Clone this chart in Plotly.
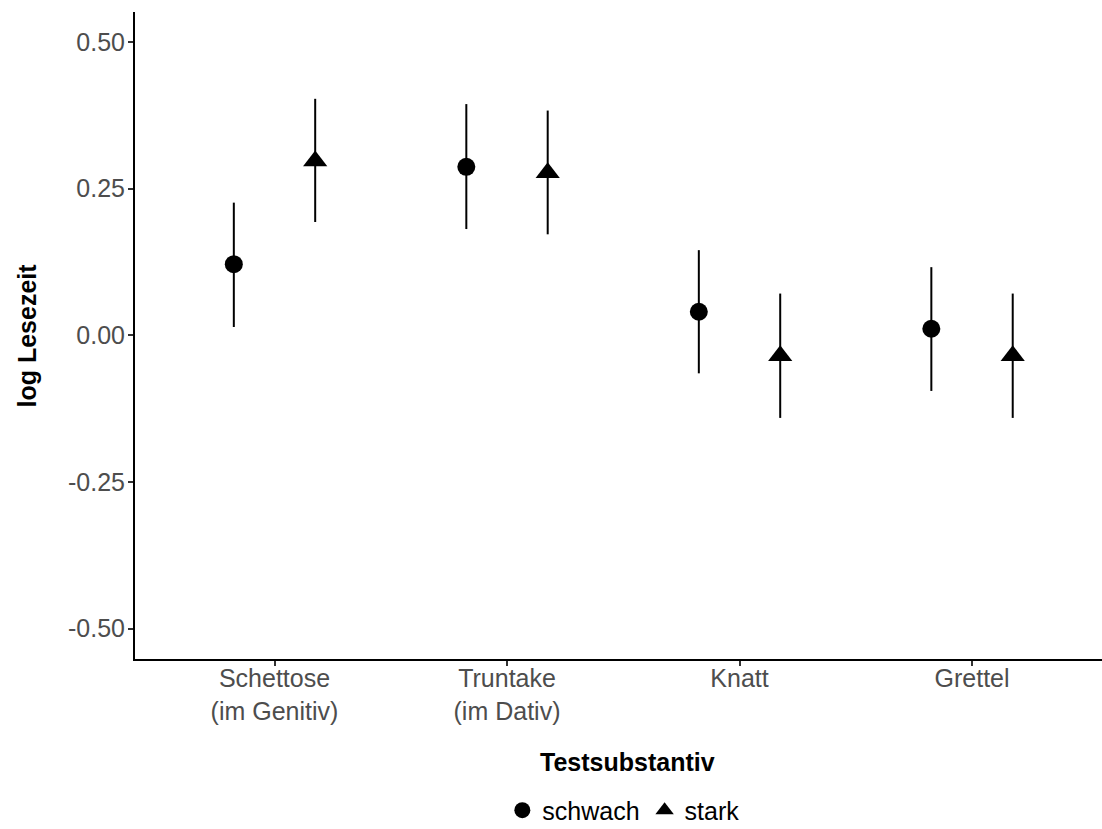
import plotly.graph_objects as go

# ---- data ----
categories = ["Schettose<br>(im Genitiv)", "Truntake<br>(im Dativ)", "Knatt", "Grettel"]
series_names = ["schwach", "stark"]
schwach_mean = [0.121, 0.287, 0.040, 0.011]
schwach_lower = [0.014, 0.181, -0.065, -0.095]
schwach_upper = [0.226, 0.394, 0.145, 0.116]
stark_mean = [0.297, 0.277, -0.035, -0.035]
stark_lower = [0.193, 0.172, -0.141, -0.141]
stark_upper = [0.403, 0.383, 0.071, 0.071]
y_ticks = [-0.50, -0.25, 0.00, 0.25, 0.50]
y_tick_labels = ["-0.50", "-0.25", "0.00", "0.25", "0.50"]

FONT = "Liberation Sans, Arial, Helvetica, sans-serif"
dodge = 0.175
idx = list(range(len(categories)))

fig = go.Figure()

def add_series(name, mean, lower, upper, offset, symbol, size):
    fig.add_trace(go.Scatter(
        x=[i + offset for i in idx],
        y=mean,
        mode="markers",
        name=name,
        marker=dict(symbol=symbol, size=size, color="black", line=dict(width=0)),
        error_y=dict(
            type="data", symmetric=False,
            array=[u - m for u, m in zip(upper, mean)],
            arrayminus=[m - l for m, l in zip(mean, lower)],
            width=0, thickness=2, color="black",
        ),
    ))

add_series(series_names[0], schwach_mean, schwach_lower, schwach_upper, -dodge, "circle", 18)
add_series(series_names[1], stark_mean, stark_lower, stark_upper, dodge, "triangle-up", 21)

fig.update_layout(
    width=1102, height=829,
    margin=dict(l=135, r=0, t=12, b=170, autoexpand=False),
    paper_bgcolor="white", plot_bgcolor="white",
    font=dict(family=FONT, size=25, color="black"),
    showlegend=True,
    legend=dict(
        orientation="h", x=0.505, xanchor="center", y=-0.234, yanchor="middle",
        font=dict(family=FONT, size=25, color="black"),
        itemsizing="trace", tracegroupgap=0, itemwidth=30,
        bgcolor="rgba(0,0,0,0)",
    ),
    xaxis=dict(
        range=[-0.6, 3.559],
        tickmode="array", tickvals=idx, ticktext=categories,
        showgrid=False, zeroline=False,
        showline=True, linecolor="black", linewidth=2,
        ticks="outside", ticklen=5, tickwidth=2, tickcolor="#333333",
        ticklabelstandoff=-9,
        tickfont=dict(family=FONT, size=25, color="#4D4D4D"),
    ),
    yaxis=dict(
        range=[-0.552, 0.551],
        tickmode="array", tickvals=y_ticks, ticktext=y_tick_labels,
        showgrid=False, zeroline=False,
        showline=True, linecolor="black", linewidth=2,
        ticks="outside", ticklen=5, tickwidth=2, tickcolor="#333333",
        ticklabelstandoff=-2,
        tickfont=dict(family=FONT, size=25, color="#4D4D4D"),
    ),
    annotations=[
        dict(text="<b>Testsubstantiv</b>", xref="paper", yref="paper",
             x=0.509, y=-0.159, xanchor="center", yanchor="middle",
             showarrow=False, font=dict(family=FONT, size=25, color="black")),
        dict(text="<b>log Lesezeit</b>", xref="paper", yref="paper",
             x=-0.1117, y=0.5, xanchor="center", yanchor="middle", textangle=-90,
             showarrow=False, font=dict(family=FONT, size=25, color="black")),
    ],
)

# remove the default 8px page margin so the figure fills the window exactly
fig.write_html(
    "out.html",
    config={"displayModeBar": False},
    post_script="document.body.style.margin='0px';"
                "document.documentElement.style.overflow='hidden';",
)
